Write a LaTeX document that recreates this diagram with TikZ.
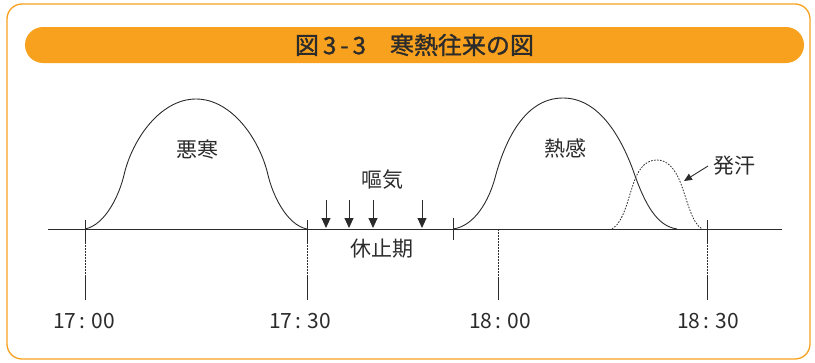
\documentclass[tikz,border=0pt]{standalone}
\usepackage{fontspec}
\setmainfont{Noto Sans CJK JP}
\newfontfamily\titlefont[FakeBold=1.2]{Noto Sans CJK JP}
\usetikzlibrary{arrows.meta}
\definecolor{orng}{HTML}{F7A11F}
\definecolor{ink}{HTML}{2B2B2B}
\begin{document}
\begin{tikzpicture}[x=1pt,y=-1pt,
  lbl/.style={font=\fontsize{21}{24}\selectfont, text=ink, inner sep=0pt},
  curve/.style={draw=ink, line width=0.9pt},
  tickline/.style={draw=ink, line width=0.8pt},
  dotline/.style={draw=ink, line width=0.8pt, dash pattern=on 1.6pt off 1.4pt},
  downarrow/.style={draw=ink, line width=0.9pt, -{Triangle[length=10pt,width=9pt]}}]
\useasboundingbox (0,0) rectangle (815,362);
% frame and title
\draw[orng, line width=1.3pt, rounded corners=15pt] (7,4) rectangle (810,359);
\fill[orng, rounded corners=18pt] (25,27) rectangle (804,63);
\node[text=ink, inner sep=0pt, font=\titlefont\fontsize{24}{26}\selectfont] (title) at (414.5,45) {図\,3\,-\,3　寒熱往来の図};
% axis
\coordinate (axL) at (48,229);
\coordinate (axR) at (782,229);
\draw[ink, line width=1pt] (axL) -- (axR);
% ticks
\foreach \x in {85,307,707}{
  \draw[tickline] (\x,220) -- (\x,242);
  \draw[dotline] (\x,242) -- (\x,277);
  \draw[tickline] (\x,277) -- (\x,300);
}
\draw[tickline] (453,218) -- (453,240);
\draw[dotline] (498,229) -- (498,277);
\draw[tickline] (498,277) -- (498,300);
% time labels
\node[lbl] (t1) at (84,321) {17\hspace{3pt}:\hspace{6pt}00};
\node[lbl] (t2) at (300,321) {17\hspace{3pt}:\hspace{6pt}30};
\node[lbl] (t3) at (500,321) {18\hspace{3pt}:\hspace{6pt}00};
\node[lbl] (t4) at (708,321) {18\hspace{3pt}:\hspace{6pt}30};
% chill curve
\draw[curve] (85,229) .. controls (105,225) and (119,196) .. (124,175)
  .. controls (132,140) and (160,99) .. (196,99)
  .. controls (232,99) and (260,140) .. (268,175)
  .. controls (273,196) and (287,225) .. (307,229);
% heat curve
\draw[curve] (453,229) .. controls (475,226) and (489,200) .. (495,178)
  .. controls (505,140) and (525,98) .. (563,98)
  .. controls (598,98) and (620,135) .. (633,170)
  .. controls (645,205) and (657,226) .. (677,229);
% sweating curve
\draw[dotline] (612,229) .. controls (624,222) and (628,198) .. (634,182)
  .. controls (640,165) and (648,160) .. (657,160)
  .. controls (667,160) and (675,168) .. (681,184)
  .. controls (688,203) and (692,223) .. (702,229);
% labels
\node[lbl] (okan) at (197,150) {悪寒};
\node[lbl] (nekkan) at (565,148) {熱感};
\node[lbl, anchor=west] (hakkan) at (713,166) {発汗};
\coordinate (hk) at (684,181);
\draw[ink, line width=0.9pt, -{Triangle[length=8pt,width=7pt]}] (hakkan.west) ++(-5,0) coordinate (hs) (hs) -- (hk);
\node[lbl] (oki) at (382,180) {嘔気};
\node[lbl] (kyushi) at (382,249) {休止期};
\foreach \x in {326,349,373,422}{
  \coordinate (s\x) at (\x,200);
  \coordinate (e\x) at (\x,228);
  \draw[downarrow] (s\x) -- (e\x);
}
\end{tikzpicture}
\end{document}
